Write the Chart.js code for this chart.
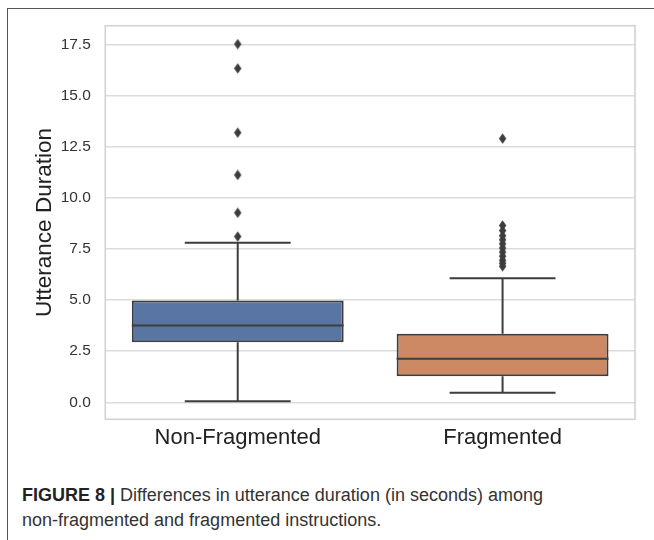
<!DOCTYPE html>
<html>
<head>
<meta charset="utf-8">
<script src="https://cdn.jsdelivr.net/npm/chart.js@4.4.1/dist/chart.umd.min.js"></script>
<style>
  html, body { margin: 0; padding: 0; background: #fff; }
  body { width: 654px; height: 540px; position: relative; overflow: hidden; font-family: 'Liberation Sans', Arial, sans-serif; }
  .frame { position: absolute; left: 6.5px; top: 7.5px; right: 0; bottom: 0; border-left: 1.6px solid #555; border-top: 1.6px solid #555; }
  .chart-box { position: absolute; left: 0; top: 0; width: 654px; height: 460px; }
  .caption { position: absolute; left: 22px; top: 483px; font-size: 18px; line-height: 24.5px; color: #333; }
  .caption b { color: #222; }
</style>
</head>
<body>
<div class="frame"></div>
<div class="chart-box"><canvas id="boxChart" width="654" height="460"></canvas></div>
<div class="caption"><b>FIGURE 8 |</b> Differences in utterance duration (in seconds) among<br>non-fragmented and fragmented instructions.</div>

<script>
'use strict';

const categories  = ['Non-Fragmented', 'Fragmented'];
const whiskerLow  = [0.05, 0.47];
const q1          = [2.94, 1.28];
const median      = [3.76, 2.13];
const q3          = [4.98, 3.35];
const whiskerHigh = [7.80, 6.07];
const outliersNonFragmented = [17.52, 16.33, 13.19, 11.12, 9.27, 8.11];
const outliersFragmented    = [12.90, 8.65, 8.40, 8.15, 7.95, 7.75, 7.55, 7.35, 7.15, 6.95, 6.80, 6.65];
const yTicks = [0, 2.5, 5, 7.5, 10, 12.5, 15, 17.5];

const boxColors = ['#5875a4', '#cc8963'];
const LINE = '#3d3d3d';

// thin diamond marker like seaborn's 'd'
function diamond() {
  const c = document.createElement('canvas');
  c.width = 9; c.height = 11;
  const g = c.getContext('2d');
  g.fillStyle = LINE;
  g.beginPath();
  g.moveTo(4.5, 0.3); g.lineTo(8.2, 5.5); g.lineTo(4.5, 10.7); g.lineTo(0.8, 5.5);
  g.closePath();
  g.fill();
  return c;
}

const outlierPoints = [
  ...outliersNonFragmented.map((v) => ({ x: categories[0], y: v })),
  ...outliersFragmented.map((v) => ({ x: categories[1], y: v })),
];

// whiskers, caps and medians drawn from the arrays via the scales
const boxLines = {
  id: 'boxLines',
  afterDatasetsDraw(chart) {
    const { ctx, scales: { y } } = chart;
    const bars = chart.getDatasetMeta(0).data;
    ctx.save();
    ctx.strokeStyle = LINE;
    ctx.lineWidth = 2;
    bars.forEach((bar, i) => {
      const cx = bar.x, half = bar.width / 2, cap = bar.width / 4;
      const yLo = y.getPixelForValue(whiskerLow[i]);
      const yHi = y.getPixelForValue(whiskerHigh[i]);
      const yQ1 = y.getPixelForValue(q1[i]);
      const yQ3 = y.getPixelForValue(q3[i]);
      const yMed = y.getPixelForValue(median[i]);
      ctx.beginPath();
      ctx.moveTo(cx, yQ1); ctx.lineTo(cx, yLo);
      ctx.moveTo(cx, yQ3); ctx.lineTo(cx, yHi);
      ctx.moveTo(cx - cap, yLo); ctx.lineTo(cx + cap, yLo);
      ctx.moveTo(cx - cap, yHi); ctx.lineTo(cx + cap, yHi);
      ctx.moveTo(cx - half, yMed); ctx.lineTo(cx + half, yMed);
      ctx.stroke();
    });
    ctx.restore();
  },
};

const plotFrame = {
  id: 'plotFrame',
  beforeDatasetsDraw(chart) {
    const { ctx, chartArea: a } = chart;
    ctx.save();
    ctx.strokeStyle = '#d2d2d2';
    ctx.lineWidth = 1.6;
    ctx.strokeRect(a.left, a.top, a.right - a.left, a.bottom - a.top);
    ctx.restore();
  },
};

new Chart(document.getElementById('boxChart'), {
  type: 'bar',
  data: {
    labels: categories,
    datasets: [
      {
        type: 'bar',
        label: 'IQR',
        data: categories.map((c, i) => [q1[i], q3[i]]),
        backgroundColor: boxColors,
        borderColor: LINE,
        borderWidth: 2,
        borderSkipped: false,
        barPercentage: 0.8,
        categoryPercentage: 1,
        order: 2,
      },
      {
        type: 'scatter',
        label: 'Outliers',
        data: outlierPoints,
        pointStyle: diamond(),
        pointRadius: 5,
        order: 1,
      },
    ],
  },
  options: {
    responsive: false,
    animation: false,
    layout: { padding: { top: 25.7, right: 19, bottom: 0, left: 0 } },
    plugins: { legend: { display: false }, tooltip: { enabled: false } },
    scales: {
      x: {
        grid: { display: false, drawTicks: false },
        border: { display: false },
        ticks: { color: '#222', padding: 5, font: { family: 'Liberation Sans', size: 22 } },
        afterFit: (s) => { s.height = 40.7; },
      },
      y: {
        min: -0.83,
        max: 18.42,
        afterBuildTicks: (s) => { s.ticks = yTicks.map((v) => ({ value: v })); },
        grid: { color: '#dcdcdc', lineWidth: 1.5, drawTicks: false },
        border: { display: false },
        ticks: {
          color: '#333',
          padding: 14.5,
          font: { family: 'Liberation Sans', size: 15.5 },
          callback: (v) => Number(v).toFixed(1),
        },
        title: {
          display: true,
          text: 'Utterance Duration',
          color: '#222',
          padding: { top: 31, bottom: 0 },
          font: { family: 'Liberation Sans', size: 22.5 },
        },
        afterFit: (s) => { s.width = 105.3; },
      },
    },
  },
  plugins: [plotFrame, boxLines],
});
</script>
</body>
</html>
